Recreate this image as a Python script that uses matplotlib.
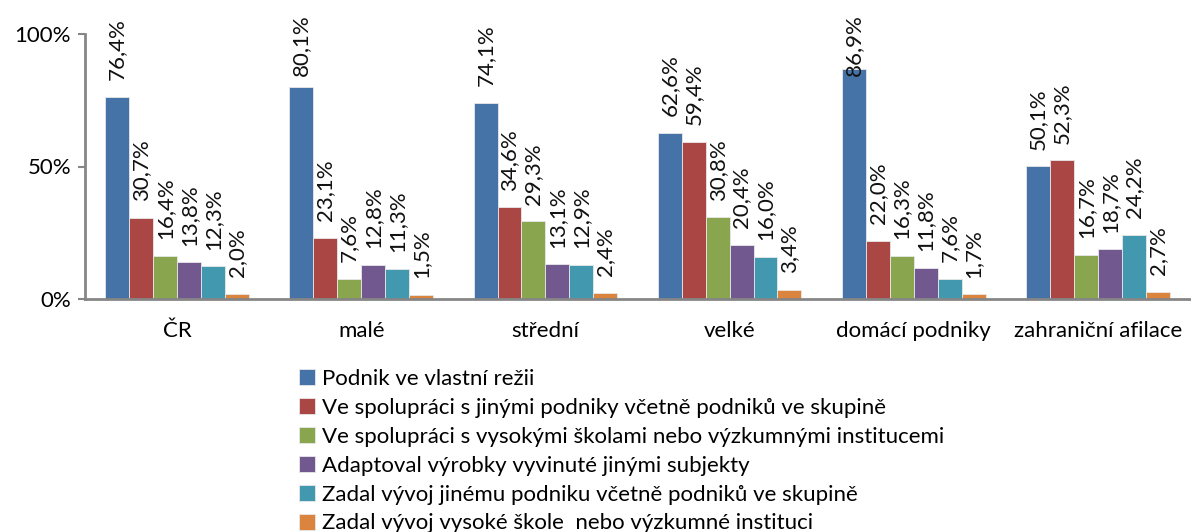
import matplotlib
matplotlib.use("Agg")
import matplotlib.pyplot as plt
import numpy as np

plt.rcParams['font.family'] = ['Lato', 'DejaVu Sans']

categories = ["ČR", "malé", "střední", "velké", "domácí podniky", "zahraniční afilace"]
series_names = [
    "Podnik ve vlastní režii",
    "Ve spolupráci s jinými podniky včetně podniků ve skupině",
    "Ve spolupráci s vysokými školami nebo výzkumnými institucemi",
    "Adaptoval výrobky vyvinuté jinými subjekty",
    "Zadal vývoj jinému podniku včetně podniků ve skupině",
    "Zadal vývoj vysoké škole  nebo výzkumné instituci",
]
vlastni = [76.4, 80.1, 74.1, 62.6, 86.9, 50.1]
podniky = [30.7, 23.1, 34.6, 59.4, 22.0, 52.3]
vysoke = [16.4, 7.6, 29.3, 30.8, 16.3, 16.7]
adaptoval = [13.8, 12.8, 13.1, 20.4, 11.8, 18.7]
zadal_podnik = [12.3, 11.3, 12.9, 16.0, 7.6, 24.2]
zadal_vs = [2.0, 1.5, 2.4, 3.4, 1.7, 2.7]
series = [vlastni, podniky, vysoke, adaptoval, zadal_podnik, zadal_vs]
colors = ["#4572A7", "#AA4643", "#89A54E", "#71588F", "#4198AF", "#DB843D"]

fig = plt.figure(figsize=(11.91, 5.32), dpi=100)
ax = fig.add_axes([85/1191, 1-299/532, 1-85/1191 - 1/1191, (299-34)/532])

n = len(series)
w = 0.13
x = np.arange(len(categories))
label_gap = 6.3      # in % units
label_max_bottom = 84.3  # labels are kept inside the chart area
handles = []
for i, (vals, c) in enumerate(zip(series, colors)):
    pos = x + (i - (n-1)/2) * w
    b = ax.bar(pos, vals, width=w, color=c, edgecolor="#e8e8e8", linewidth=0.6)
    handles.append(b)
    for p, v in zip(pos, vals):
        ypos = min(v + label_gap, label_max_bottom)
        ax.text(p, ypos, f"{v:.1f}%".replace(".", ","), rotation=90,
                ha="center", va="bottom", fontsize=16, color="#111111",
                clip_on=False, zorder=5)

ax.set_xlim(-0.5, len(categories)-0.5)
ax.set_ylim(0, 100)
ax.set_yticks([0, 50, 100])
ax.set_yticklabels(["0%", "50%", "100%"], fontsize=16)
ax.set_xticks(x)
ax.set_xticklabels(categories, fontsize=16)
ax.tick_params(axis="x", length=0, pad=16)
ax.tick_params(axis="y", length=5, width=1.5, color="#868686", pad=5)
for s in ["top", "right"]:
    ax.spines[s].set_visible(False)
for s in ["left", "bottom"]:
    ax.spines[s].set_color("#868686")
    ax.spines[s].set_linewidth(2)
ax.set_facecolor("none")

fig.legend(handles, series_names, loc="upper left",
           bbox_to_anchor=(299/1191, 1-369/532), frameon=False, fontsize=16,
           handlelength=0.72, handleheight=0.72, handletextpad=0.3,
           labelspacing=0.4, borderaxespad=0, borderpad=0)

fig.savefig("out.png", dpi=100)
